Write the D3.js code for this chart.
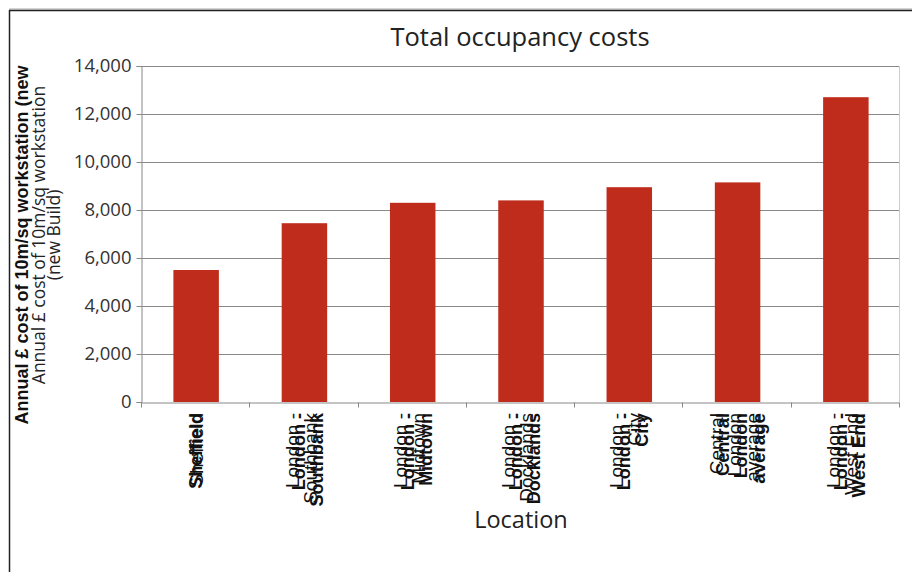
<!DOCTYPE html>
<html><head><meta charset="utf-8">
<script src="https://cdn.jsdelivr.net/npm/d3@7"></script>
<style>body{margin:0;background:#fff}svg{display:block}</style>
</head><body>
<svg id="c" width="912" height="572"></svg>
<script>
const categories = ["Sheffield","London - Southbank","London - Midtown","London - Docklands","London - City","Central London average","London - West End"];
const labelLines = [["Sheffield"],["London -","Southbank"],["London -","Midtown"],["London -","Docklands"],["London -","City"],["Central","London","average"],["London -","West End"]];
const values = [5500, 7450, 8300, 8400, 8950, 9150, 12700];
const yTicks = [0,2000,4000,6000,8000,10000,12000,14000];
const title = "Total occupancy costs";
const xTitle = "Location";
const yTitleBold = "Annual £ cost of 10m/sq workstation (new";
const yTitleLines = ["Annual £ cost of 10m/sq workstation","(new Build)"];

const svg = d3.select("#c");
const L = 141, R = 899, T = 66, B = 402;
const sansA = "'Open Sans', 'Noto Sans', sans-serif";
const sansB = "'Liberation Sans', Arial, sans-serif";

// outer frame
svg.append("line").attr("x1",9).attr("x2",912).attr("y1",9).attr("y2",9).attr("stroke","#aaa").attr("stroke-width",1);
svg.append("line").attr("x1",9).attr("x2",912).attr("y1",10.5).attr("y2",10.5).attr("stroke","#222").attr("stroke-width",1.5);
svg.append("line").attr("x1",9.5).attr("x2",9.5).attr("y1",10).attr("y2",572).attr("stroke","#222").attr("stroke-width",1.5);

const x = d3.scaleBand().domain(categories).range([L,R]).padding(0);
const y = d3.scaleLinear().domain([0,14000]).range([B,T]);

// gridlines
svg.append("g").selectAll("line").data(yTicks.filter(d=>d>0)).join("line")
  .attr("x1",L).attr("x2",R).attr("y1",d=>Math.round(y(d))+0.5).attr("y2",d=>Math.round(y(d))+0.5)
  .attr("stroke","#888").attr("stroke-width",1);
// right border of plot
svg.append("line").attr("x1",R+0.5).attr("x2",R+0.5).attr("y1",T).attr("y2",B).attr("stroke","#ccc");

// bars
const bw = x.bandwidth()*0.42;
svg.append("g").selectAll("rect").data(values).join("rect")
  .attr("x",(d,i)=>x(categories[i])+x.bandwidth()/2-bw/2+1)
  .attr("width",bw)
  .attr("y",d=>y(d)).attr("height",d=>B-y(d))
  .attr("fill","#bf2c1b");

// y axis
const ya = svg.append("g").attr("transform",`translate(${L+0.5},0)`)
  .call(d3.axisLeft(y).tickValues(yTicks).tickFormat(d3.format(",")).tickSize(5).tickPadding(5));
ya.select(".domain").attr("stroke","#888");
ya.selectAll(".tick line").attr("stroke","#888");
ya.selectAll(".tick text").attr("font-family",sansA).attr("font-size",18.5).attr("fill","#333");

// x axis
const xa = svg.append("g").attr("transform",`translate(0,${B+0.5})`)
  .call(d3.axisBottom(x).tickSize(0).tickFormat(""));
xa.select(".domain").attr("stroke","#888");
const bounds = categories.map(c=>x(c)).concat([R]);
xa.append("g").selectAll("line").data(bounds).join("line")
  .attr("x1",d=>Math.round(d)+0.5).attr("x2",d=>Math.round(d)+0.5).attr("y1",0).attr("y2",5).attr("stroke","#888");

// category labels: two overlapping layers (regular + bold condensed)
const lh = 18;
labelLines.forEach((lines,i)=>{
  const cx = x(categories[i]) + x.bandwidth()/2 + 1;
  const n = lines.length;
  lines.forEach((t,j)=>{
    const off = (j-(n-1)/2)*lh;
    const sh = n>1 ? 3.5 : 0;
    const reg = svg.append("text").attr("transform",`translate(${cx+off-sh},413) rotate(-90)`)
      .attr("text-anchor","end").attr("dy","0.35em").attr("font-family",sansB).attr("font-size",19).attr("fill","#111")
      .text(t);
    const len = reg.node().getComputedTextLength();
    svg.append("text").attr("transform",`translate(${cx+off+sh},413) rotate(-90)`)
      .attr("text-anchor","end").attr("dy","0.35em").attr("font-family",sansB).attr("font-weight","bold")
      .attr("font-size",18).attr("fill","#111")
      .attr("textLength",len*1.03).attr("lengthAdjust","spacingAndGlyphs")
      .text(t);
  });
});

// title
svg.append("text").attr("x",520).attr("y",46).attr("text-anchor","middle")
  .attr("font-family",sansA).attr("font-size",25.5).attr("fill","#222").text(title);
// x title
svg.append("text").attr("x",521).attr("y",528).attr("text-anchor","middle")
  .attr("font-family",sansA).attr("font-size",23.5).attr("fill","#222").text(xTitle);

// y title bold
svg.append("text").attr("transform","translate(28,245) rotate(-90)").attr("text-anchor","middle")
  .attr("font-family",sansB).attr("font-weight","bold").attr("font-size",18).attr("fill","#111").text(yTitleBold);
// y title regular two lines
yTitleLines.forEach((t,j)=>{
  svg.append("text").attr("transform",`translate(${45+j*15},235) rotate(-90)`).attr("text-anchor","middle")
    .attr("font-family",sansA).attr("font-size",17.5).attr("fill","#222").text(t);
});
</script>
</body></html>
